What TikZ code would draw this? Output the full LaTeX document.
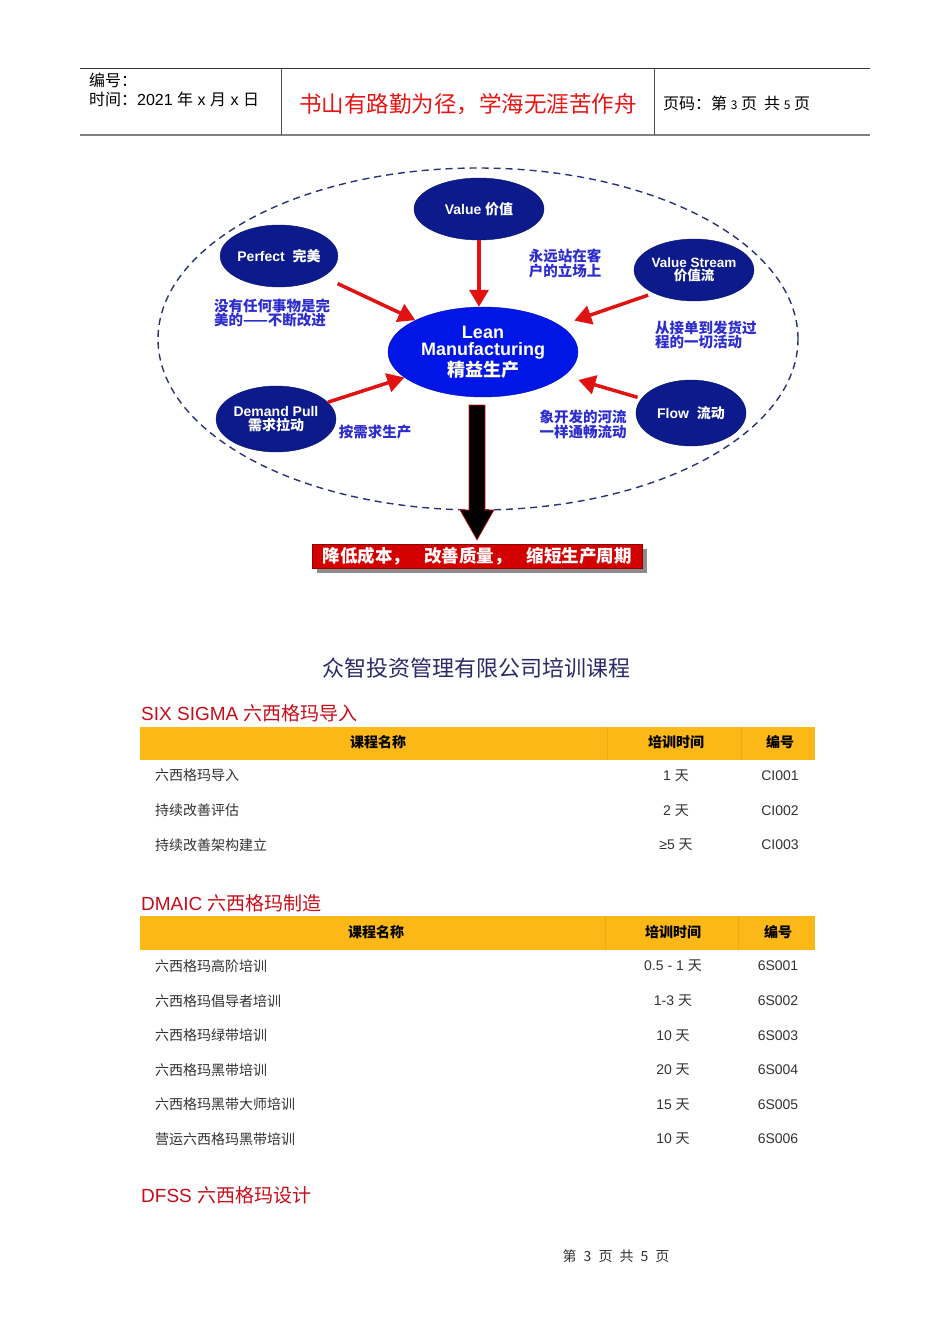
\documentclass[tikz,border=0pt]{standalone}
\usepackage{fontspec}
\setmainfont{Liberation Sans}
\newfontfamily\cjk{Noto Sans CJK SC}
\usepackage{tikz}
\usetikzlibrary{shapes, arrows.meta, positioning, calc, shadows}

\definecolor{navy}{RGB}{12,26,140}
\definecolor{leanblue}{RGB}{0,22,230}
\definecolor{arrowred}{RGB}{225,18,18}
\definecolor{notecol}{RGB}{45,45,205}
\definecolor{ringcol}{RGB}{40,50,120}
\definecolor{bannerred}{RGB}{210,0,0}
\definecolor{headred}{RGB}{230,20,20}
\definecolor{secred}{RGB}{200,12,24}
\definecolor{bandcol}{RGB}{251,184,22}
\definecolor{titlecol}{RGB}{42,42,105}
\definecolor{bodycol}{RGB}{50,50,50}

\begin{document}
\begin{tikzpicture}[x=1pt, y=-1pt,
  bubble/.style={ellipse, draw=navy!80!black, fill=navy, text=white, inner sep=0pt, align=center, font=\bfseries\fontsize{14}{13.5}\selectfont},
  note/.style={text=notecol, inner sep=0pt, align=left, font=\cjk\bfseries\fontsize{14.5}{13.5}\selectfont},
  push/.style={draw=arrowred, line width=3.5pt, -{Triangle[length=17pt,width=19pt]}},
  cell/.style={text=bodycol, inner sep=0pt, font=\fontsize{14}{14}\selectfont},
  headcell/.style={inner sep=0pt, font=\cjk\bfseries\fontsize{14}{14}\selectfont},
  section/.style={anchor=west, text=secred, inner sep=0pt, font=\fontsize{19}{19}\selectfont}
]
  \useasboundingbox (0,0) rectangle (950,1344);

  % Page header
  \draw[black!80, line width=0.8pt] (80,68) -- (870,68);
  \draw[black!50, line width=2pt] (80,135) -- (870,135);
  \draw[black!70, line width=0.8pt] (281,68) -- (281,135);
  \draw[black!70, line width=0.8pt] (654,68) -- (654,135);
  \node[anchor=west, inner sep=0pt, font=\cjk\fontsize{16}{16}\selectfont] (serial) at (89,80) {编号：};
  \node[anchor=west, inner sep=0pt, font=\fontsize{16}{16}\selectfont] (date) at (89,99) {{\cjk 时间：}2021 {\cjk 年} x {\cjk 月} x {\cjk 日}};
  \node[inner sep=0pt, text=headred, font=\cjk\fontsize{22.5}{22.5}\selectfont] (motto) at (468,104) {书山有路勤为径，学海无涯苦作舟};
  \node[anchor=west, inner sep=0pt, font=\cjk\fontsize{16}{16}\selectfont] (pages) at (663,103) {页码：第\ {\fontsize{12}{12}\selectfont 3}\ 页\ \ 共\ {\fontsize{12}{12}\selectfont 5}\ 页};

  % Lean diagram
  \draw[ringcol, line width=1.4pt, dash pattern=on 7pt off 5pt] (478,339) ellipse [x radius=320pt, y radius=171pt];

  \node[ellipse, draw=leanblue!80!black, fill=leanblue, text=white!90!yellow, inner sep=0pt, minimum width=190pt, minimum height=90pt, align=center, font=\bfseries\fontsize{18}{17.5}\selectfont] (lean) at (483,352) {Lean\\Manufacturing\\{\cjk 精益生产}};
  \node[bubble, minimum width=130pt, minimum height=62pt] (value) at (479,209) {Value {\cjk 价值}};
  \node[bubble, minimum width=104pt, minimum height=62pt] (perfect) at (279,256) {Perfect\ \ {\cjk 完美}};
  \node[bubble, minimum width=118pt, minimum height=62pt, font=\bfseries\fontsize{13.5}{13}\selectfont] (stream) at (694,270) {Value Stream\\{\cjk 价值流}};
  \node[bubble, minimum width=110pt, minimum height=66pt] (demand) at (276,419) {Demand Pull\\{\cjk 需求拉动}};
  \node[bubble, minimum width=110pt, minimum height=66pt] (flow) at (691,413) {Flow\ \ {\cjk 流动}};

  \node[note, align=left] (perfectnote) at (272,313) {没有任何事物是完\\美的——不断改进};
  \node[note] (valuenote) at (565,263) {永远站在客\\户的立场上};
  \node[note, anchor=west] (streamnote) at (655,335) {从接单到发货过\\程的一切活动};
  \node[note] (demandnote) at (375,432) {按需求生产};
  \node[note] (flownote) at (583,424) {象开发的河流\\一样通畅流动};

  % Arrows
  \draw[push] (value) -- (value |- lean.north);
  \draw[push, shorten <=16pt] (perfect) -- (lean);
  \draw[push, shorten <=6pt, shorten >=15pt] (stream.210) -- (lean);
  \draw[push] (demand) -- (lean);
  \draw[push, shorten <=4pt, shorten >=15pt] (flow) -- (lean);

  % Result
  \node[draw=bannerred!70!black, fill=bannerred, text=white, minimum width=330pt, minimum height=24pt, inner sep=0pt,
        drop shadow={shadow xshift=5pt, shadow yshift=-5pt, fill=black!45, opacity=1},
        font=\cjk\bfseries\fontsize{17.5}{17.5}\selectfont] (result) at (477,556)
        {\makebox[102pt][l]{降低成本，}\makebox[102pt][l]{改善质量，}缩短生产周期};
  \draw[arrowred, fill=black, line width=0.6pt] (469,405) -- (485,405) -- (485,510) -- (494,510) -- (477,540) -- (460,510) -- (469,510) -- cycle;

  % Courses
  \node[inner sep=0pt, text=titlecol, font=\cjk\fontsize{22}{22}\selectfont] (title) at (476,668) {众智投资管理有限公司培训课程};

  \node[section] (sixsigma) at (141,713) {SIX SIGMA {\cjk 六西格玛导入}};
  \fill[bandcol] (140,727) rectangle (815,760);
  \draw[bandcol!92!black, line width=0.4pt] (607,727) -- (607,760) (741,727) -- (741,760);
  \node[headcell] (h1name) at (378,742) {课程名称};
  \node[headcell] (h1time) at (676,742) {培训时间};
  \node[headcell] (h1code) at (780,742) {编号};
  \foreach \name/\days/\code [count=\i] in {六西格玛导入/1/CI001, 持续改善评估/2/CI002, 持续改善架构建立/≥5/CI003} {
    \node[cell, anchor=west] (s\i name) at (155,741+34.6*\i) {\cjk \name};
    \node[cell] (s\i time) at (676,741+34.6*\i) {\days\ {\cjk 天}};
    \node[cell] (s\i code) at (780,741+34.6*\i) {\code};
  }

  \node[section] (dmaic) at (141,903) {DMAIC {\cjk 六西格玛制造}};
  \fill[bandcol] (140,916) rectangle (815,950);
  \draw[bandcol!92!black, line width=0.4pt] (605,916) -- (605,950) (738,916) -- (738,950);
  \node[headcell] (h2name) at (376,932) {课程名称};
  \node[headcell] (h2time) at (673,932) {培训时间};
  \node[headcell] (h2code) at (778,932) {编号};
  \foreach \name/\days/\code [count=\i] in {六西格玛高阶培训/0.5 - 1/6S001, 六西格玛倡导者培训/1-3/6S002, 六西格玛绿带培训/10/6S003,
      六西格玛黑带培训/20/6S004, 六西格玛黑带大师培训/15/6S005, 营运六西格玛黑带培训/10/6S006} {
    \node[cell, anchor=west] (d\i name) at (155,931.5+34.6*\i) {\cjk \name};
    \node[cell] (d\i time) at (673,931.5+34.6*\i) {\days\ {\cjk 天}};
    \node[cell] (d\i code) at (778,931.5+34.6*\i) {\code};
  }

  \node[section] (dfss) at (141,1195) {DFSS {\cjk 六西格玛设计}};

  % Footer
  \node[inner sep=0pt, text=bodycol, font=\cjk\fontsize{14}{14}\selectfont] (footer) at (616,1256) {第\hspace{7pt}3\hspace{7pt}页\hspace{7pt}共\hspace{7pt}5\hspace{7pt}页};
\end{tikzpicture}
\end{document}
